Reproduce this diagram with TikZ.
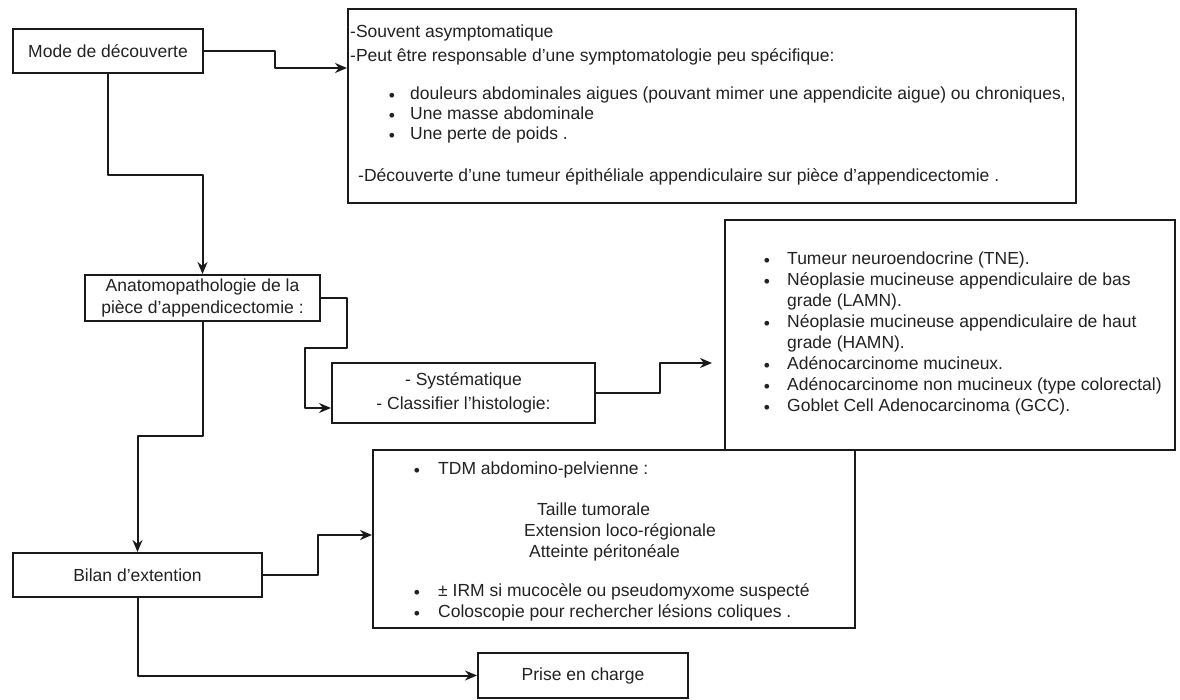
\documentclass[tikz,border=0pt]{standalone}
\usepackage{fontspec}
\setmainfont{Liberation Sans}
\usetikzlibrary{arrows.meta}
\definecolor{ink}{HTML}{1A1A1A}
\definecolor{txtc}{HTML}{222222}
\newcommand\dgfont{\fontsize{17.5}{22}\selectfont}

\begin{document}
\begin{tikzpicture}[x=1pt,y=-1pt,
  box/.style={draw=ink, line width=2pt, rectangle, inner sep=0pt, fill=white,
              text=txtc, font=\dgfont, align=center},
  link/.style={draw=ink, line width=2pt, line join=round},
  arr/.style={link, -{Stealth[length=12pt,width=10pt]}},
  ln/.style={anchor=mid west, inner sep=0pt, text=txtc, font=\dgfont},
  dot/.style={anchor=center, inner sep=0pt, text=txtc, font=\dgfont}]

% canvas
\fill[white] (0,0) rectangle (1180,700);
\useasboundingbox (0,0) rectangle (1180,700);

% boxes
\node[box, minimum width=190pt, minimum height=44pt] (mode) at (108,51) {Mode de découverte};
\node[box, minimum width=728pt, minimum height=194pt] (symp) at (712,106) {};
\node[box, minimum width=235pt, minimum height=46pt] (anat) at (202.5,298)
  {Anatomopathologie de la\\pièce d’appendicectomie :};
\node[box, minimum width=263pt, minimum height=60pt, font=\fontsize{17.5}{24}\selectfont] (sys) at (463.5,393)
  {- Systématique\\- Classifier l’histologie:};
\node[box, minimum width=450pt, minimum height=230pt] (tum) at (950,335) {};
\node[box, minimum width=249pt, minimum height=44pt] (bilan) at (137.5,575) {Bilan d'extention};
\node[box, minimum width=482pt, minimum height=178pt] (tdm) at (614,539) {};
\node[box, minimum width=210pt, minimum height=45pt] (prise) at (583,675.5) {Prise en charge};

% connectors
\draw[arr] (mode.east) -- (275,51) |- (symp.west |- 0,68);
\draw[arr] (mode.south) |- (202.5,175) -- (anat.north);
\draw[arr] (anat.east) -- (347,298) |- (305,348) |- (sys.west |- 0,408);
\draw[arr, shorten >=12pt] (sys.east) -- (660,393) |- (tum.west |- 0,363);
\draw[arr] (anat.south) |- (137.5,436) -- (bilan.north);
\draw[arr] (bilan.east) -- (318,575) |- (tdm.west |- 0,535);
\draw[arr] (bilan.south) |- (prise.west);

% presentation
\node[ln] (s1) at (350,35) {-Souvent asymptomatique};
\node[ln] (s2) at (350,59) {-Peut être responsable d’une symptomatologie peu spécifique:};
\node[dot] (sb1) at (392,97) {•};
\node[ln] (s3) at (410,97) {douleurs abdominales aigues (pouvant mimer une appendicite aigue) ou chroniques,};
\node[dot] (sb2) at (392,117) {•};
\node[ln] (s4) at (410,117) {Une masse abdominale};
\node[dot] (sb3) at (392,137) {•};
\node[ln] (s5) at (410,137) {Une perte de poids .};
\node[ln] (s6) at (358,179) {-Découverte d’une tumeur épithéliale appendiculaire sur pièce d'appendicectomie .};

% histology
\node[dot] (tb1) at (767,262) {•};
\node[ln] (t1) at (787,262) {Tumeur neuroendocrine (TNE).};
\node[dot] (tb2) at (767,283) {•};
\node[ln] (t2) at (787,283) {Néoplasie mucineuse appendiculaire de bas};
\node[ln] (t3) at (787,304) {grade (LAMN).};
\node[dot] (tb3) at (767,325) {•};
\node[ln] (t4) at (787,325) {Néoplasie mucineuse appendiculaire de haut};
\node[ln] (t5) at (787,346) {grade (HAMN).};
\node[dot] (tb4) at (767,367) {•};
\node[ln] (t6) at (787,367) {Adénocarcinome mucineux.};
\node[dot] (tb5) at (767,388) {•};
\node[ln] (t7) at (787,388) {Adénocarcinome non mucineux (type colorectal)};
\node[dot] (tb6) at (767,409) {•};
\node[ln] (t8) at (787,409) {Goblet Cell Adenocarcinoma (GCC).};

% staging
\node[dot] (db1) at (417,472) {•};
\node[ln] (d1) at (438,472) {TDM abdomino-pelvienne :};
\node[ln] (d2) at (537,513) {Taille tumorale};
\node[ln] (d3) at (524,534) {Extension loco-régionale};
\node[ln] (d4) at (529,555) {Atteinte péritonéale};
\node[dot] (db2) at (417,594) {•};
\node[ln] (d5) at (438,594) {± IRM si mucocèle ou pseudomyxome suspecté};
\node[dot] (db3) at (417,615) {•};
\node[ln] (d6) at (438,615) {Coloscopie pour rechercher lésions coliques .};
\end{tikzpicture}
\end{document}
